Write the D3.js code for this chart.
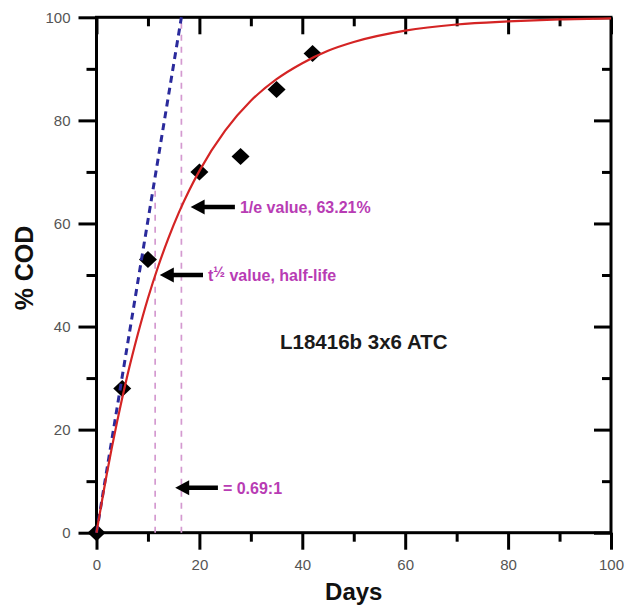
<!DOCTYPE html>
<html>
<head>
<meta charset="utf-8">
<script src="https://cdn.jsdelivr.net/npm/d3@7"></script>
<style>
  body { margin: 0; background: #fff; }
  svg { display: block; font-family: "Liberation Sans", Arial, sans-serif; }
</style>
</head>
<body>
<div id="chart"></div>
<script>
// measured COD points
const days = [0, 5, 10, 20, 28, 35, 42];
const cod = [0, 28, 53, 70, 73, 86, 93];

// fitted first-order curve
const curveDays = [0, 2, 4, 6, 8, 10, 12, 14, 16, 18, 20, 25, 30, 35, 40, 45, 50, 60, 70, 80, 90, 100];
const curveCod = [0, 11.4, 21.5, 30.5, 38.4, 45.5, 51.7, 57.2, 62.1, 66.4, 70.2, 78.0, 83.8, 88.0, 91.1, 93.5, 95.2, 97.4, 98.6, 99.2, 99.6, 99.8];

// initial slope line, 1/e time and half-life
const slopeDays = [0, 16.5];
const slopeCod = [0, 100];
const markDays = [11.4, 16.5];
const markTop = [66.5, 100];

// arrow annotations
const arrowLabels = ["1/e value, 63.21%", "value, half-life", "= 0.69:1"];
const arrowY = [63.21, 50, 8.7];
const arrowTip = [18.3, 12.3, 15.3];
const arrowTail = [26.9, 20.7, 23.6];

const xMajor = [0, 20, 40, 60, 80, 100];
const yMajor = [0, 20, 40, 60, 80, 100];
const minorTicks = [10, 30, 50, 70, 90];

const width = 634, height = 607;
const mLeft = 96.5, mRight = 611, mTop = 17.3, mBottom = 532.7;

const x = d3.scaleLinear().domain([0, 100]).range([mLeft, mRight]);
const y = d3.scaleLinear().domain([0, 100]).range([mBottom, mTop]);

const svg = d3.select("#chart").append("svg")
    .attr("width", width)
    .attr("height", height);

// axes: outward ticks on left/bottom, inward on top/right
function styleAxis(g) {
    g.select(".domain").remove();
    g.selectAll(".tick line").attr("stroke", "#000").attr("stroke-width", 3);
    g.selectAll(".tick text")
        .attr("fill", "#555")
        .style("font-size", "15px");
}

svg.append("g")
    .attr("transform", `translate(0,${mBottom})`)
    .call(d3.axisBottom(x).tickValues(xMajor).tickSize(17).tickPadding(10).tickFormat(d3.format("d")))
    .call(styleAxis);
svg.append("g")
    .attr("transform", `translate(0,${mBottom})`)
    .call(d3.axisBottom(x).tickValues(minorTicks).tickSize(9).tickFormat(""))
    .call(styleAxis);

svg.append("g")
    .attr("transform", `translate(${mLeft},0)`)
    .call(d3.axisLeft(y).tickValues(yMajor).tickSize(18).tickPadding(8).tickFormat(d3.format("d")))
    .call(styleAxis);
svg.append("g")
    .attr("transform", `translate(${mLeft},0)`)
    .call(d3.axisLeft(y).tickValues(minorTicks).tickSize(10).tickFormat(""))
    .call(styleAxis);

svg.append("g")
    .attr("transform", `translate(0,${mTop})`)
    .call(d3.axisBottom(x).tickValues(xMajor).tickSize(17).tickFormat(""))
    .call(styleAxis);
svg.append("g")
    .attr("transform", `translate(0,${mTop})`)
    .call(d3.axisBottom(x).tickValues(minorTicks).tickSize(9).tickFormat(""))
    .call(styleAxis);

svg.append("g")
    .attr("transform", `translate(${mRight},0)`)
    .call(d3.axisLeft(y).tickValues(yMajor).tickSize(17).tickFormat(""))
    .call(styleAxis);
svg.append("g")
    .attr("transform", `translate(${mRight},0)`)
    .call(d3.axisLeft(y).tickValues(minorTicks).tickSize(9).tickFormat(""))
    .call(styleAxis);

svg.append("rect")
    .attr("x", mLeft)
    .attr("y", mTop)
    .attr("width", mRight - mLeft)
    .attr("height", mBottom - mTop)
    .attr("fill", "none")
    .attr("stroke", "#000")
    .attr("stroke-width", 3);

// pink dashed markers
svg.selectAll("line.mark")
    .data(markDays)
    .enter()
    .append("line")
    .attr("class", "mark")
    .attr("x1", d => x(d))
    .attr("x2", d => x(d))
    .attr("y1", y(0))
    .attr("y2", (d, i) => y(markTop[i]))
    .attr("stroke", "#d49ad0")
    .attr("stroke-width", 1.7)
    .attr("stroke-dasharray", "6,6");

// data diamonds
svg.selectAll("path.pt")
    .data(days)
    .enter()
    .append("path")
    .attr("class", "pt")
    .attr("d", "M0,-8.5L9,0L0,8.5L-9,0Z")
    .attr("transform", (d, i) => `translate(${x(d)},${y(cod[i])})`)
    .attr("fill", "#000");

// blue initial slope
svg.append("path")
    .datum(slopeDays)
    .attr("d", d3.line().x(d => x(d)).y((d, i) => y(slopeCod[i])))
    .attr("fill", "none")
    .attr("stroke", "#2a2a9c")
    .attr("stroke-width", 3)
    .attr("stroke-dasharray", "7,5");

// red fit
svg.append("path")
    .datum(curveDays)
    .attr("d", d3.line().curve(d3.curveMonotoneX).x(d => x(d)).y((d, i) => y(curveCod[i])))
    .attr("fill", "none")
    .attr("stroke", "#d42424")
    .attr("stroke-width", 2.2);

// arrows
const arrows = svg.selectAll("g.arrow")
    .data(arrowLabels)
    .enter()
    .append("g")
    .attr("class", "arrow");

arrows.append("line")
    .attr("x1", (d, i) => x(arrowTip[i]) + 10)
    .attr("x2", (d, i) => x(arrowTail[i]))
    .attr("y1", (d, i) => y(arrowY[i]))
    .attr("y2", (d, i) => y(arrowY[i]))
    .attr("stroke", "#000")
    .attr("stroke-width", 4.5);

arrows.append("path")
    .attr("d", (d, i) => {
        const tx = x(arrowTip[i]), ty = y(arrowY[i]);
        return `M${tx},${ty}L${tx + 14},${ty - 7.5}L${tx + 14},${ty + 7.5}Z`;
    })
    .attr("fill", "#000");

arrows.append("text")
    .attr("x", (d, i) => x(arrowTail[i]) + 5)
    .attr("y", (d, i) => y(arrowY[i]) + 5.7)
    .attr("fill", "#b83cb4")
    .style("font-size", "16px")
    .style("font-weight", "bold")
    .each(function(d, i) {
        const t = d3.select(this);
        if (i === 1) {
            t.append("tspan").text("t");
            t.append("tspan").attr("dy", -4).style("font-size", "14px").text("\u00bd");
            t.append("tspan").attr("dy", 4).text(" " + d);
        } else {
            t.text(d);
        }
    });

svg.append("text")
    .attr("x", 280)
    .attr("y", 349)
    .attr("fill", "#1a1a1a")
    .style("font-size", "20.5px")
    .style("font-weight", "bold")
    .text("L18416b 3x6 ATC");

// axis titles
svg.append("text")
    .attr("x", (mLeft + mRight) / 2)
    .attr("y", 600)
    .attr("text-anchor", "middle")
    .attr("fill", "#111")
    .style("font-size", "24px")
    .style("font-weight", "bold")
    .text("Days");

svg.append("text")
    .attr("transform", "translate(33,268) rotate(-90)")
    .attr("text-anchor", "middle")
    .attr("fill", "#111")
    .style("font-size", "25px")
    .style("font-weight", "bold")
    .text("% COD");
</script>
</body>
</html>
